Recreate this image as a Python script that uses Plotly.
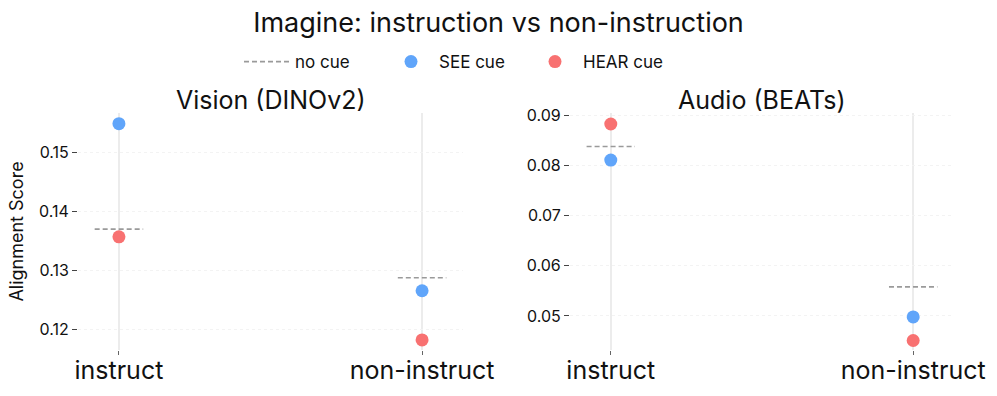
import plotly.graph_objects as go

conditions = ["instruct", "non-instruct"]

vision_none = [0.1370, 0.1288]
vision_see = [0.1548, 0.1266]
vision_hear = [0.1357, 0.1183]

audio_none = [0.0838, 0.0558]
audio_see = [0.0811, 0.0498]
audio_hear = [0.0883, 0.0451]

BLUE = "#60a5fa"
RED = "#f87171"
GREY = "#9a9a9a"
FONT = "Inter"

fig = go.Figure()

panels = [
    ("x", "y", vision_none, vision_see, vision_hear, True),
    ("x2", "y2", audio_none, audio_see, audio_hear, False),
]

for xa, ya, none_vals, see_vals, hear_vals, show in panels:
    # short dashed baseline per condition
    for i, v in enumerate(none_vals):
        fig.add_trace(go.Scatter(
            x=[i - 0.08, i + 0.08], y=[v, v],
            mode="lines", line=dict(color=GREY, dash="5px,3px", width=1.6),
            name="no cue", legendgroup="none",
            showlegend=show and i == 0,
            xaxis=xa, yaxis=ya,
        ))
    fig.add_trace(go.Scatter(
        x=list(range(len(conditions))), y=see_vals,
        mode="markers", marker=dict(color=BLUE, size=13),
        name="SEE cue", legendgroup="see", showlegend=show,
        xaxis=xa, yaxis=ya,
    ))
    fig.add_trace(go.Scatter(
        x=list(range(len(conditions))), y=hear_vals,
        mode="markers", marker=dict(color=RED, size=13),
        name="HEAR cue", legendgroup="hear", showlegend=show,
        xaxis=xa, yaxis=ya,
    ))

xaxis_style = dict(
    tickvals=list(range(len(conditions))), ticktext=conditions,
    range=[-0.135, 1.135],
    showgrid=True, gridcolor="#ececec", gridwidth=1.5,
    zeroline=False, showline=False, automargin=False,
    ticks="outside", ticklen=4, tickcolor="#666",
    ticklabelstandoff=-6,
    tickfont=dict(size=25, color="#111"),
)
yaxis_style = dict(
    showgrid=True, gridcolor="#f3f3f3", griddash="dot",
    zeroline=False, showline=False, automargin=False,
    ticks="outside", ticklen=5, tickcolor="#444",
    tickfont=dict(size=16, color="#111"),
)

fig.update_layout(
    width=997, height=396,
    paper_bgcolor="white", plot_bgcolor="white",
    font=dict(family=FONT, color="#111"),
    margin=dict(l=78, r=43, t=113, b=46),
    title=dict(text="Imagine: instruction vs non-instruction",
               x=0.5, xanchor="center", y=0.944, yanchor="middle",
               font=dict(size=27, color="#111")),
    legend=dict(orientation="h", x=(239 - 78) / 876, xanchor="left",
                y=1.215, yanchor="middle", font=dict(size=17),
                itemwidth=46, entrywidth=83, bgcolor="rgba(0,0,0,0)"),
    xaxis=dict(domain=[0, 0.4395], **xaxis_style),
    xaxis2=dict(domain=[0.5616, 1], anchor="y2", **xaxis_style),
    yaxis=dict(range=[0.1166, 0.1566], dtick=0.01, tickformat=".2f",
               title=dict(text="Alignment Score", font=dict(size=18), standoff=10),
               **yaxis_style),
    yaxis2=dict(range=[0.0432, 0.0905], dtick=0.01, tickformat=".2f",
                anchor="x2", **yaxis_style),
)

for txt, xc in [("Vision (DINOv2)", 0.4395 / 2), ("Audio (BEATs)", (0.5616 + 1) / 2)]:
    fig.add_annotation(text=txt, x=xc, y=1.055, xref="paper", yref="paper",
                       xanchor="center", yanchor="middle", showarrow=False,
                       font=dict(size=25, color="#111"))

fig.write_html("out.html", config={"displayModeBar": False},
               post_script="document.body.style.margin='0';")
